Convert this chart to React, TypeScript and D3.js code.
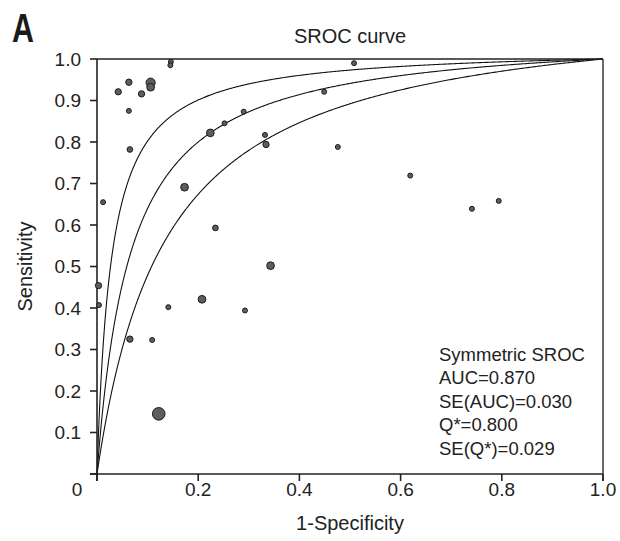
import React from "react";
import * as d3 from "d3";

// 1-Specificity (false positive rate) of each study
const fpr = [
  0.146, 0.145, 0.042, 0.063, 0.088, 0.106, 0.106, 0.063, 0.065, 0.012,
  0.224, 0.252, 0.29, 0.332, 0.334, 0.173, 0.234, 0.343, 0.508, 0.449,
  0.476, 0.619, 0.741, 0.794, 0.003, 0.004, 0.141, 0.2075, 0.2925, 0.065,
  0.109, 0.122,
];
// Sensitivity of each study
const sens = [
  0.993, 0.985, 0.921, 0.944, 0.916, 0.943, 0.932, 0.875, 0.782, 0.655,
  0.822, 0.845, 0.873, 0.817, 0.794, 0.691, 0.593, 0.502, 0.99, 0.921,
  0.788, 0.719, 0.639, 0.658, 0.454, 0.407, 0.402, 0.421, 0.394, 0.325,
  0.323, 0.145,
];
// relative study weight (symbol size)
const weight = [
  1, 1, 1.6, 1.6, 1.6, 3.4, 2.4, 1, 1.3, 1,
  2.4, 1, 1, 1, 1.6, 2.4, 1.3, 2.4, 1, 1,
  1, 1, 1, 1, 1.6, 1, 1, 2.4, 1, 1.6,
  1, 6.4,
];

// Symmetric SROC: Q* and bounds (Q* ± 2·SE)
const qValues = [0.858, 0.8, 0.742];

const yTicks = [0, 0.1, 0.2, 0.3, 0.4, 0.5, 0.6, 0.7, 0.8, 0.9, 1.0];
const yTickLabels = ["", "0.1", "0.2", "0.3", "0.4", "0.5", "0.6", "0.7", "0.8", "0.9", "1.0"];
const xTicks = [0, 0.2, 0.4, 0.6, 0.8, 1.0];
const xTickLabels = ["0", "0.2", "0.4", "0.6", "0.8", "1.0"];

const statLines = [
  "Symmetric SROC",
  "AUC=0.870",
  "SE(AUC)=0.030",
  "Q*=0.800",
  "SE(Q*)=0.029",
];

const W = 620;
const H = 541;
const L = 97, R = 603, T = 59, B = 474;
const FONT = "'Liberation Sans', Arial, Helvetica, sans-serif";

export default function App() {
  const x = d3.scaleLinear().domain([0, 1]).range([L, R]);
  const y = d3.scaleLinear().domain([0, 1]).range([B, T]);
  const r = d3.scaleSqrt().domain([0, 6.4]).range([0, 6.3]);

  const logit = (p: number) => Math.log(p / (1 - p));
  const samples = d3.range(0, 801).map((i) => Math.pow(i / 800, 2.5));
  const line = d3
    .line<[number, number]>()
    .x((d) => x(d[0]))
    .y((d) => y(d[1]));
  const curves = qValues.map((q) => {
    const a = 2 * logit(q);
    const pts: [number, number][] = samples.map((f) => {
      if (f <= 0) return [0, 0];
      if (f >= 1) return [1, 1];
      const v = a + logit(f);
      return [f, 1 / (1 + Math.exp(-v))];
    });
    return line(pts) as string;
  });

  const pts = fpr.map((f, i) => ({ f, s: sens[i], w: weight[i] }));
  pts.sort((p1, p2) => p2.w - p1.w);

  const axisColor = "#222";
  return (
    <div style={{ position: "absolute", left: 0, top: 0 }}>
      <svg width={W} height={H} style={{ display: "block", background: "#fff" }}>
        <rect x={0} y={0} width={W} height={H} fill="#fff" />
        <text
          transform="translate(12,42) scale(0.76,1)"
          fontFamily={FONT}
          fontWeight="bold"
          fontSize={40}
          fill="#1a1a1a"
        >
          A
        </text>
        <text x={(L + R) / 2} y={43} textAnchor="middle" fontFamily={FONT} fontSize={20} fill="#222">
          SROC curve
        </text>

        {/* curves */}
        {curves.map((d, i) => (
          <path key={i} d={d} fill="none" stroke="#111" strokeWidth={1.1} />
        ))}

        {/* frame & axes */}
        <line x1={L} x2={R} y1={T} y2={T} stroke={axisColor} strokeWidth={1.6} />
        <line x1={R} x2={R} y1={T} y2={B + 7} stroke="#444" strokeWidth={1.6} />
        <line x1={L} x2={L} y1={T} y2={B + 7} stroke={axisColor} strokeWidth={1.6} />
        <line x1={L - 7} x2={R} y1={B} y2={B} stroke={axisColor} strokeWidth={1.6} />

        {yTicks.map((t, i) => (
          <g key={"y" + i}>
            <line x1={L - 7} x2={L} y1={y(t)} y2={y(t)} stroke={axisColor} strokeWidth={1.6} />
            <text
              x={L - 16}
              y={y(t)}
              dy="0.35em"
              textAnchor="end"
              fontFamily={FONT}
              fontSize={19}
              fill="#222"
            >
              {yTickLabels[i]}
            </text>
          </g>
        ))}
        {xTicks.map((t, i) => (
          <g key={"x" + i}>
            <line x1={x(t)} x2={x(t)} y1={B} y2={B + 7} stroke={axisColor} strokeWidth={1.6} />
            <text
              x={t === 0 ? x(t) - 20 : x(t)}
              y={496}
              textAnchor="middle"
              fontFamily={FONT}
              fontSize={19}
              fill="#222"
            >
              {xTickLabels[i]}
            </text>
          </g>
        ))}

        <text x={(L + R) / 2} y={530} textAnchor="middle" fontFamily={FONT} fontSize={20} fill="#222">
          1-Specificity
        </text>
        <text
          transform={`translate(32, ${(T + B) / 2}) rotate(-90)`}
          textAnchor="middle"
          fontFamily={FONT}
          fontSize={20}
          fill="#222"
        >
          Sensitivity
        </text>

        {/* study points */}
        {pts.map((p, i) => (
          <circle
            key={i}
            cx={x(p.f)}
            cy={y(p.s)}
            r={r(p.w)}
            fill="#5e5e5e"
            stroke="#1a1a1a"
            strokeWidth={1}
          />
        ))}

        {/* stats */}
        {statLines.map((s, i) => (
          <text key={s} x={439} y={361 + i * 23.4} fontFamily={FONT} fontSize={18.5} fill="#222">
            {s}
          </text>
        ))}
      </svg>
    </div>
  );
}
